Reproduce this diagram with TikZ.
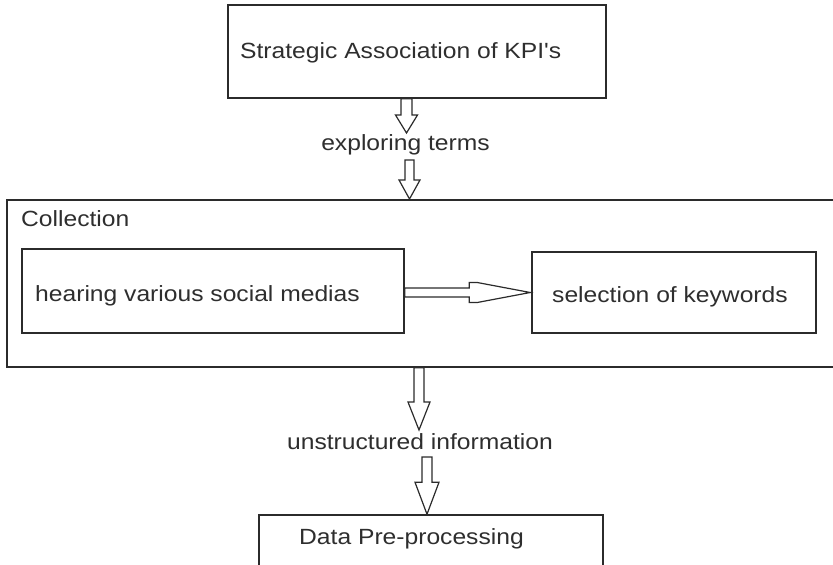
\documentclass[tikz,border=0pt]{standalone}
\usepackage{fontspec}
\setmainfont{Liberation Sans}[FakeStretch=1.12, Ligatures=TeXOff]
\usetikzlibrary{calc}
\definecolor{linecol}{HTML}{2B2B2B}
\definecolor{textcol}{HTML}{2E2E2E}
\newcommand\vblockarrow[5]{% start, tip, head length, shaft half width, head half width
  \draw[blockarrow] let \p1=(#1), \p2=(#2) in
    (\x2-#4pt,\y1) -- (\x2-#4pt,\y2+#3pt) -- (\x2-#5pt,\y2+#3pt) -- (\x2,\y2)
    -- (\x2+#5pt,\y2+#3pt) -- (\x2+#4pt,\y2+#3pt) -- (\x2+#4pt,\y1) -- cycle;}
\begin{document}
\begin{tikzpicture}[x=1pt,y=-1pt,
  box/.style={draw=linecol, line width=1.5pt, rectangle, inner sep=0pt},
  txt/.style={text=textcol, inner sep=0pt, anchor=base west, font=\fontsize{22}{26}\selectfont},
  blockarrow/.style={draw=linecol, line width=1.2pt, fill=white, line join=miter}]
\useasboundingbox (0,0) rectangle (833,565);
% boxes
\node[box, minimum width=378pt, minimum height=93pt] (kpi) at (417,51.5) {};
\node[box, minimum width=833pt, minimum height=167pt] (coll) at (423.5,283.5) {};
\node[box, minimum width=382pt, minimum height=84pt] (hearing) at (213,291) {};
\node[box, minimum width=284pt, minimum height=81pt] (keywords) at (674,292.5) {};
\node[box, minimum width=344pt, minimum height=85pt] (dpp) at (431,557.5) {};
% texts
\node[txt] (kpitext) at (240,58) {Strategic Association of KPI's};
\node[txt, anchor=base] (explore) at (405.5,150) {exploring terms};
\node[txt] (colltext) at (21,226) {Collection};
\node[txt] (hearingtext) at (35,301) {hearing various social medias};
\node[txt] (keywordstext) at (552,302) {selection of keywords};
\node[txt, anchor=base] (unstr) at (420,449) {unstructured information};
\node[txt] (dpptext) at (299,544) {Data Pre-processing};
% arrow tips / starts
\coordinate (t1) at (406.5,133);
\coordinate (s2) at (409.5,160);
\coordinate (t2) at (409.5,199);
\coordinate (t3) at (419,430);
\coordinate (s4) at (427,457);
% block arrows
\vblockarrow{kpi.south}{t1}{18}{5.5}{11}
\vblockarrow{s2}{t2}{19}{4.5}{10.5}
\vblockarrow{coll.south}{t3}{28}{5}{11}
\vblockarrow{s4}{dpp.north -| s4}{32}{5}{12}
\draw[blockarrow] let \p1=(hearing.east), \p2=(keywords.west) in
  (\x1,\y2+4.5pt) -- (\x2-62pt,\y2+4.5pt) -- (\x2-62pt,\y2+10pt) -- (\x2-54pt,\y2+10pt)
  -- (\x2-1pt,\y2) -- (\x2-54pt,\y2-10pt) -- (\x2-62pt,\y2-10pt) -- (\x2-62pt,\y2-4.5pt)
  -- (\x1,\y2-4.5pt) -- cycle;
\end{tikzpicture}
\end{document}
